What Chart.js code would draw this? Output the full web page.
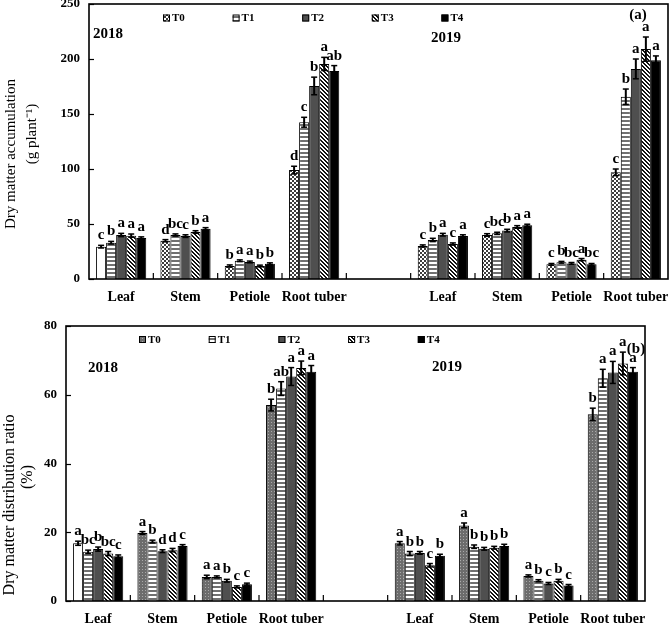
<!DOCTYPE html>
<html>
<head>
<meta charset="utf-8">
<script src="https://cdn.jsdelivr.net/npm/chart.js@4.4.0/dist/chart.umd.min.js"></script>
<style>
    body { margin: 0; background: #fff; }
    #wrap { position: relative; width: 669px; height: 624px; }
    #wrap canvas { position: absolute; left: 0; }
</style>
</head>
<body>
<div id="wrap">
    <canvas id="accChart" width="669" height="310" style="top:0"></canvas>
    <canvas id="ratioChart" width="669" height="314" style="top:310px"></canvas>
</div>
<script>
const categories = ['Leaf', 'Stem', 'Petiole', 'Root tuber', '', 'Leaf', 'Stem', 'Petiole', 'Root tuber'];
const treatments = ['T0', 'T1', 'T2', 'T3', 'T4'];

// (a) dry matter accumulation, g plant-1 (2018 block, gap, 2019 block)
const accT0 = [29.4, 34.8, 11.8, 99.0, null, 30.0, 40.0, 13.3, 97.0];
const accT1 = [33.0, 40.0, 16.6, 142.5, null, 35.5, 41.5, 15.2, 165.7];
const accT2 = [40.0, 39.0, 15.5, 175.5, null, 40.3, 44.0, 14.2, 191.0];
const accT3 = [39.4, 42.7, 11.8, 195.5, null, 31.8, 47.3, 17.6, 209.0];
const accT4 = [37.3, 45.7, 13.9, 189.0, null, 39.0, 48.8, 13.3, 198.8];

const accErrT0 = [1.2, 1.0, 1.0, 3.5, null, 1.0, 1.2, 0.8, 3.0];
const accErrT1 = [1.2, 1.0, 0.8, 4.5, null, 1.5, 1.0, 0.8, 7.0];
const accErrT2 = [1.5, 1.2, 0.8, 8.0, null, 1.2, 1.2, 0.8, 9.0];
const accErrT3 = [1.5, 1.2, 0.8, 6.0, null, 1.0, 1.2, 1.0, 11.0];
const accErrT4 = [1.0, 1.0, 0.8, 5.0, null, 1.2, 1.0, 0.8, 4.0];

const accSigT0 = ['c', 'd', 'b', 'd', '', 'c', 'c', 'c', 'c'];
const accSigT1 = ['b', 'bc', 'a', 'c', '', 'b', 'bc', 'b', 'b'];
const accSigT2 = ['a', 'c', 'a', 'b', '', 'a', 'b', 'bc', 'a'];
const accSigT3 = ['a', 'b', 'b', 'a', '', 'c', 'a', 'a', 'a'];
const accSigT4 = ['a', 'a', 'b', 'ab', '', 'a', 'a', 'bc', 'a'];

// (b) dry matter distribution ratio, %
const ratioT0 = [16.8, 19.8, 7.0, 57.0, null, 16.8, 22.0, 7.3, 54.3];
const ratioT1 = [14.3, 17.3, 7.0, 61.8, null, 13.8, 15.8, 5.9, 64.8];
const ratioT2 = [15.1, 14.5, 5.9, 65.3, null, 14.0, 15.2, 5.1, 66.5];
const ratioT3 = [13.8, 14.8, 4.1, 67.8, null, 10.4, 15.5, 5.9, 69.1];
const ratioT4 = [13.0, 16.0, 4.9, 66.7, null, 13.2, 16.0, 4.5, 66.7];

const ratioErrT0 = [0.6, 0.4, 0.5, 1.7, null, 0.5, 0.7, 0.3, 1.8];
const ratioErrT1 = [0.5, 0.4, 0.3, 2.0, null, 0.6, 0.5, 0.3, 2.6];
const ratioErrT2 = [0.6, 0.4, 0.4, 2.6, null, 0.4, 0.4, 0.3, 3.2];
const ratioErrT3 = [0.6, 0.5, 0.3, 2.0, null, 0.5, 0.4, 0.4, 3.3];
const ratioErrT4 = [0.4, 0.4, 0.3, 1.8, null, 0.4, 0.5, 0.3, 1.2];

const ratioSigT0 = ['a', 'a', 'a', 'b', '', 'a', 'a', 'a', 'b'];
const ratioSigT1 = ['bc', 'b', 'a', 'ab', '', 'b', 'b', 'b', 'a'];
const ratioSigT2 = ['b', 'd', 'b', 'a', '', 'b', 'b', 'c', 'a'];
const ratioSigT3 = ['bc', 'd', 'c', 'a', '', 'c', 'b', 'b', 'a'];
const ratioSigT4 = ['c', 'c', 'c', 'a', '', 'b', 'b', 'c', 'a'];

const accTicks = [0, 50, 100, 150, 200, 250];
const ratioTicks = [0, 20, 40, 60, 80];

const serif = "'Liberation Serif', 'Times New Roman', serif";

function makePattern(w, h, paint) {
    const c = document.createElement('canvas');
    c.width = w;
    c.height = h;
    const g = c.getContext('2d');
    paint(g);
    return g.createPattern(c, 'repeat');
}

const checker = makePattern(4, 4, g => {
    g.fillStyle = '#fff';
    g.fillRect(0, 0, 4, 4);
    g.fillStyle = '#3c3c3c';
    g.fillRect(0, 0, 2, 2);
    g.fillRect(2, 2, 2, 2);
});
const dotted = makePattern(3, 3, g => {
    g.fillStyle = '#6c6c6c';
    g.fillRect(0, 0, 3, 3);
    g.fillStyle = '#a8a8a8';
    g.fillRect(1, 1, 1, 1);
});
const stripes = makePattern(1, 4, g => {
    g.fillStyle = '#fff';
    g.fillRect(0, 0, 1, 4);
    g.fillStyle = '#707070';
    g.fillRect(0, 0, 1, 2);
});
const hatch = makePattern(4, 4, g => {
    g.fillStyle = '#fff';
    g.fillRect(0, 0, 4, 4);
    g.fillStyle = '#111';
    for (let i = 0; i < 4; i++) {
        g.fillRect(i, i, 1, 1);
        g.fillRect((i + 1) % 4, i, 1, 1);
    }
});

function buildDatasets(values, errs, sigs, firstFill) {
    const fills = [firstFill, stripes, '#4f4f4f', hatch, '#000'];
    return values.map((vals, i) => ({
        label: treatments[i],
        data: vals,
        err: errs[i],
        sig: sigs[i],
        legendFill: fills[i],
        // the 2018 leaf bar of T0 is left empty in the original
        backgroundColor: i === 0 ? vals.map((v, j) => j === 0 ? '#fff' : fills[0]) : fills[i],
        borderColor: '#000',
        borderWidth: 1,
        categoryPercentage: 0.78,
        barPercentage: 1
    }));
}

function line(ctx, x1, y1, x2, y2) {
    ctx.beginPath();
    ctx.moveTo(x1, y1);
    ctx.lineTo(x2, y2);
    ctx.stroke();
}

const frame = {
    id: 'frame',
    afterDraw(chart) {
        const { ctx, chartArea: a, scales: { x, y } } = chart;
        ctx.save();
        ctx.strokeStyle = '#000';
        ctx.lineWidth = 1.2;
        y.ticks.forEach(t => {
            const py = Math.round(y.getPixelForValue(t.value)) + 0.5;
            line(ctx, a.left, py, a.left + 5, py);
        });
        for (let i = 1; i < categories.length; i++) {
            const px = (x.getPixelForValue(i - 1) + x.getPixelForValue(i)) / 2;
            line(ctx, px, a.bottom, px, a.bottom - 6);
        }
        ctx.lineWidth = 1.6;
        ctx.strokeRect(a.left, a.top, a.right - a.left, a.bottom - a.top);
        ctx.restore();
    }
};

const errorBars = {
    id: 'errorBars',
    afterDatasetsDraw(chart) {
        const { ctx, scales: { y } } = chart;
        ctx.save();
        ctx.strokeStyle = '#000';
        ctx.fillStyle = '#000';
        ctx.font = 'bold 15px ' + serif;
        ctx.textAlign = 'center';
        ctx.textBaseline = 'alphabetic';
        chart.data.datasets.forEach((ds, di) => {
            chart.getDatasetMeta(di).data.forEach((bar, i) => {
                const v = ds.data[i];
                if (v == null) return;
                const e = ds.err[i];
                const top = y.getPixelForValue(v + e);
                const bot = y.getPixelForValue(v - e);
                ctx.lineWidth = 2;
                line(ctx, bar.x, top, bar.x, bot);
                ctx.lineWidth = 1.5;
                line(ctx, bar.x - 3, top, bar.x + 3, top);
                line(ctx, bar.x - 3, bot, bar.x + 3, bot);
                ctx.fillText(ds.sig[i], bar.x, top - 6);
            });
        });
        ctx.restore();
    }
};

const notes = {
    id: 'notes',
    afterDraw(chart, args, o) {
        const ctx = chart.ctx;
        ctx.save();
        ctx.fillStyle = '#000';
        ctx.textAlign = 'center';
        ctx.textBaseline = 'middle';
        ctx.font = 'bold 15px ' + serif;
        o.labels.forEach(l => ctx.fillText(l.text, l.x, l.y));

        ctx.font = o.titleSize + 'px ' + serif;
        o.titles.forEach(t => {
            ctx.save();
            ctx.translate(t.x, t.y);
            ctx.rotate(-Math.PI / 2);
            ctx.fillText(t.text, 0, 0);
            ctx.restore();
        });

        // legend drawn inside the plot area from the datasets
        ctx.font = 'bold 11px ' + serif;
        ctx.textAlign = 'left';
        chart.data.datasets.forEach((ds, i) => {
            const bx = o.legend.x + i * o.legend.step;
            const by = o.legend.y;
            ctx.fillStyle = ds.legendFill;
            ctx.fillRect(bx, by - 3.5, 7, 7);
            ctx.lineWidth = 1;
            ctx.strokeStyle = '#000';
            ctx.strokeRect(bx + 0.5, by - 3, 6, 6);
            ctx.fillStyle = '#000';
            ctx.fillText(ds.label, bx + 9, by + 0.5);
        });
        ctx.restore();
    }
};

function makeChart(id, cfg) {
    return new Chart(document.getElementById(id), {
        type: 'bar',
        data: { labels: categories, datasets: cfg.datasets },
        options: {
            responsive: false,
            animation: false,
            layout: { padding: cfg.padding },
            plugins: {
                legend: { display: false },
                tooltip: { enabled: false },
                notes: cfg.notes
            },
            scales: {
                x: {
                    offset: true,
                    grid: { display: false, drawTicks: false },
                    border: { display: false },
                    ticks: {
                        color: '#000', padding: cfg.xPad, autoSkip: false, maxRotation: 0,
                        font: { family: serif, size: 14, weight: 'bold' }
                    },
                    afterFit: s => { s.height = cfg.xHeight; s.paddingLeft = 0; s.paddingRight = 0; }
                },
                y: {
                    min: 0,
                    max: cfg.ticks[cfg.ticks.length - 1],
                    afterBuildTicks: s => { s.ticks = cfg.ticks.map(v => ({ value: v })); },
                    grid: { display: false, drawTicks: false },
                    border: { display: false },
                    ticks: {
                        color: '#000', padding: 9,
                        font: { family: serif, size: 13, weight: 'bold' }
                    },
                    afterFit: s => { s.width = cfg.yWidth; s.paddingTop = 0; s.paddingBottom = 0; }
                }
            }
        },
        plugins: [frame, errorBars, notes]
    });
}

makeChart('accChart', {
    datasets: buildDatasets(
        [accT0, accT1, accT2, accT3, accT4],
        [accErrT0, accErrT1, accErrT2, accErrT3, accErrT4],
        [accSigT0, accSigT1, accSigT2, accSigT3, accSigT4],
        checker
    ),
    ticks: accTicks,
    padding: { top: 4, right: 1, bottom: 0, left: 0 },
    yWidth: 89,
    xHeight: 31,
    xPad: 10,
    notes: {
        labels: [
            { text: '2018', x: 108, y: 34 },
            { text: '2019', x: 446, y: 38 },
            { text: '(a)', x: 638, y: 15 }
        ],
        titleSize: 15,
        titles: [
            { text: 'Dry matter accumulation', x: 11, y: 154 },
            { text: '(g plant\u207B\u00B9)', x: 32, y: 134 }
        ],
        legend: { x: 163, y: 18, step: 69.6 }
    }
});

makeChart('ratioChart', {
    datasets: buildDatasets(
        [ratioT0, ratioT1, ratioT2, ratioT3, ratioT4],
        [ratioErrT0, ratioErrT1, ratioErrT2, ratioErrT3, ratioErrT4],
        [ratioSigT0, ratioSigT1, ratioSigT2, ratioSigT3, ratioSigT4],
        dotted
    ),
    ticks: ratioTicks,
    padding: { top: 16, right: 24, bottom: 0, left: 0 },
    yWidth: 66,
    xHeight: 23,
    xPad: 10,
    notes: {
        labels: [
            { text: '2018', x: 103, y: 58 },
            { text: '2019', x: 447, y: 57 },
            { text: '(b)', x: 636, y: 39 }
        ],
        titleSize: 16,
        titles: [
            { text: 'Dry matter distribution ratio', x: 10, y: 195 },
            { text: '(%)', x: 28, y: 167 }
        ],
        legend: { x: 139, y: 29.5, step: 69.7 }
    }
});
</script>
</body>
</html>
